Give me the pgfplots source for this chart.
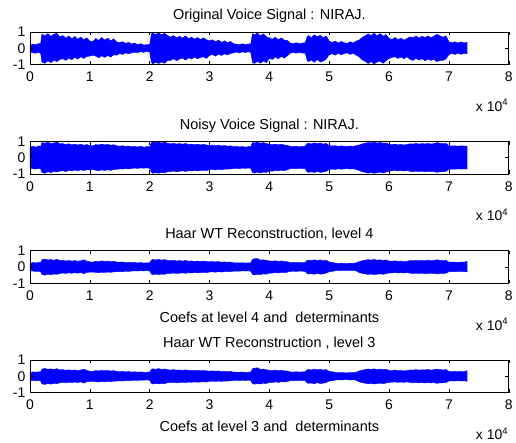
\documentclass[border=0pt]{standalone}
\usepackage{pgfplots}
\pgfplotsset{compat=1.18}
\usepackage{pgfplotstable}
\usepgfplotslibrary{fillbetween}
\usepackage{fontspec}
\setmainfont{Liberation Sans}

% Envelopes (upper / lower) of the signals, x in units of 10^4 samples
\pgfplotstableread{
x hi lo
0.00 0.18 -0.20
0.05 0.26 -0.28
0.10 0.22 -0.30
0.15 0.29 -0.24
0.18 0.30 -0.32
0.20 0.86 -0.84
0.25 0.76 -0.92
0.30 0.90 -0.76
0.35 0.74 -0.88
0.40 0.86 -0.72
0.45 0.92 -0.82
0.50 0.70 -0.68
0.55 0.78 -0.64
0.60 0.62 -0.74
0.65 0.76 -0.60
0.70 0.58 -0.70
0.75 0.72 -0.55
0.80 0.56 -0.66
0.85 0.68 -0.52
0.90 0.52 -0.62
0.95 0.64 -0.50
1.00 0.44 -0.48
1.05 0.40 -0.42
1.10 0.60 -0.48
1.15 0.48 -0.58
1.20 0.66 -0.46
1.25 0.50 -0.56
1.30 0.62 -0.44
1.35 0.46 -0.54
1.40 0.58 -0.40
1.45 0.38 -0.42
1.50 0.36 -0.32
1.55 0.40 -0.38
1.60 0.30 -0.28
1.65 0.36 -0.34
1.70 0.26 -0.28
1.75 0.32 -0.24
1.80 0.22 -0.27
1.85 0.28 -0.21
1.90 0.20 -0.25
1.95 0.22 -0.19
2.00 0.24 -0.23
2.03 0.88 -0.86
2.05 0.93 -0.95
2.10 0.84 -0.86
2.15 0.95 -0.93
2.20 0.82 -0.84
2.25 0.91 -0.92
2.30 0.78 -0.74
2.35 0.68 -0.74
2.40 0.78 -0.64
2.45 0.64 -0.76
2.50 0.74 -0.66
2.55 0.62 -0.60
2.60 0.76 -0.72
2.65 0.58 -0.58
2.70 0.68 -0.66
2.75 0.56 -0.54
2.80 0.66 -0.64
2.85 0.54 -0.56
2.90 0.64 -0.52
2.95 0.52 -0.62
3.00 0.46 -0.44
3.05 0.52 -0.38
3.10 0.40 -0.48
3.15 0.50 -0.36
3.20 0.36 -0.44
3.25 0.46 -0.34
3.30 0.34 -0.40
3.35 0.42 -0.32
3.40 0.28 -0.28
3.45 0.25 -0.23
3.50 0.22 -0.28
3.55 0.28 -0.22
3.60 0.22 -0.26
3.65 0.26 -0.21
3.69 0.28 -0.26
3.72 0.90 -0.88
3.75 0.82 -0.93
3.80 0.93 -0.80
3.85 0.76 -0.91
3.90 0.88 -0.78
3.95 0.70 -0.88
4.00 0.64 -0.62
4.05 0.56 -0.68
4.10 0.68 -0.54
4.15 0.52 -0.64
4.20 0.64 -0.50
4.25 0.50 -0.60
4.30 0.48 -0.46
4.35 0.32 -0.30
4.40 0.29 -0.26
4.45 0.34 -0.30
4.50 0.28 -0.25
4.55 0.32 -0.29
4.60 0.34 -0.30
4.63 0.70 -0.72
4.65 0.78 -0.82
4.70 0.66 -0.72
4.75 0.82 -0.86
4.80 0.70 -0.68
4.85 0.80 -0.84
4.90 0.64 -0.78
4.95 0.76 -0.66
5.00 0.44 -0.40
5.05 0.36 -0.34
5.10 0.44 -0.42
5.15 0.32 -0.30
5.20 0.42 -0.40
5.25 0.34 -0.32
5.30 0.30 -0.28
5.35 0.40 -0.38
5.40 0.32 -0.30
5.45 0.44 -0.42
5.50 0.50 -0.52
5.55 0.66 -0.70
5.60 0.76 -0.80
5.65 0.88 -0.93
5.70 0.78 -0.82
5.75 0.92 -0.95
5.80 0.76 -0.84
5.85 0.90 -0.78
5.90 0.74 -0.92
5.95 0.84 -0.76
6.00 0.60 -0.62
6.05 0.54 -0.56
6.10 0.66 -0.52
6.15 0.52 -0.62
6.20 0.62 -0.54
6.25 0.50 -0.64
6.30 0.60 -0.52
6.35 0.70 -0.68
6.40 0.64 -0.74
6.45 0.76 -0.62
6.50 0.62 -0.72
6.55 0.74 -0.64
6.60 0.66 -0.76
6.65 0.76 -0.66
6.70 0.64 -0.74
6.75 0.74 -0.68
6.80 0.86 -0.82
6.85 0.76 -0.74
6.90 0.68 -0.74
6.95 0.76 -0.66
7.00 0.40 -0.38
7.05 0.34 -0.32
7.10 0.40 -0.38
7.15 0.32 -0.30
7.20 0.39 -0.37
7.25 0.33 -0.31
7.31 0.36 -0.34
}\original

\pgfplotstableread{
x hi lo
0.00 0.66 -0.62
0.05 0.70 -0.68
0.10 0.64 -0.70
0.15 0.72 -0.66
0.18 0.68 -0.70
0.20 0.92 -0.90
0.25 0.88 -0.96
0.30 0.95 -0.86
0.35 0.86 -0.92
0.40 0.90 -0.84
0.45 0.96 -0.88
0.50 0.84 -0.82
0.55 0.86 -0.80
0.60 0.80 -0.86
0.65 0.85 -0.78
0.70 0.78 -0.82
0.75 0.83 -0.76
0.80 0.77 -0.80
0.85 0.82 -0.75
0.90 0.76 -0.79
0.95 0.80 -0.74
1.00 0.74 -0.76
1.05 0.72 -0.73
1.10 0.80 -0.77
1.15 0.77 -0.80
1.20 0.83 -0.75
1.25 0.78 -0.79
1.30 0.81 -0.74
1.35 0.76 -0.78
1.40 0.79 -0.72
1.45 0.72 -0.72
1.50 0.70 -0.69
1.55 0.73 -0.70
1.60 0.68 -0.67
1.65 0.71 -0.69
1.70 0.66 -0.66
1.75 0.69 -0.64
1.80 0.65 -0.66
1.85 0.70 -0.63
1.90 0.64 -0.65
1.95 0.67 -0.62
2.00 0.66 -0.66
2.03 0.92 -0.90
2.05 0.95 -0.96
2.10 0.91 -0.92
2.15 0.96 -0.95
2.20 0.90 -0.91
2.25 0.94 -0.93
2.30 0.88 -0.86
2.35 0.84 -0.85
2.40 0.88 -0.82
2.45 0.83 -0.87
2.50 0.86 -0.83
2.55 0.82 -0.81
2.60 0.87 -0.85
2.65 0.80 -0.80
2.70 0.83 -0.82
2.75 0.79 -0.78
2.80 0.82 -0.81
2.85 0.78 -0.79
2.90 0.81 -0.77
2.95 0.77 -0.80
3.00 0.75 -0.74
3.05 0.77 -0.72
3.10 0.73 -0.75
3.15 0.76 -0.71
3.20 0.71 -0.74
3.25 0.74 -0.70
3.30 0.70 -0.71
3.35 0.72 -0.69
3.40 0.67 -0.67
3.45 0.69 -0.65
3.50 0.65 -0.68
3.55 0.68 -0.64
3.60 0.64 -0.66
3.65 0.67 -0.63
3.69 0.68 -0.67
3.72 0.93 -0.92
3.75 0.90 -0.95
3.80 0.95 -0.89
3.85 0.88 -0.94
3.90 0.92 -0.88
3.95 0.86 -0.91
4.00 0.82 -0.81
4.05 0.79 -0.83
4.10 0.83 -0.78
4.15 0.78 -0.81
4.20 0.82 -0.77
4.25 0.77 -0.80
4.30 0.75 -0.74
4.35 0.69 -0.68
4.40 0.67 -0.66
4.45 0.70 -0.68
4.50 0.66 -0.65
4.55 0.69 -0.67
4.60 0.70 -0.68
4.63 0.85 -0.86
4.65 0.88 -0.90
4.70 0.84 -0.87
4.75 0.90 -0.91
4.80 0.86 -0.85
4.85 0.89 -0.90
4.90 0.83 -0.88
4.95 0.87 -0.84
5.00 0.74 -0.72
5.05 0.71 -0.70
5.10 0.73 -0.72
5.15 0.69 -0.68
5.20 0.72 -0.71
5.25 0.70 -0.69
5.30 0.68 -0.67
5.35 0.71 -0.70
5.40 0.69 -0.68
5.45 0.73 -0.72
5.50 0.77 -0.78
5.55 0.84 -0.86
5.60 0.88 -0.90
5.65 0.93 -0.95
5.70 0.90 -0.91
5.75 0.95 -0.96
5.80 0.89 -0.92
5.85 0.93 -0.89
5.90 0.88 -0.94
5.95 0.90 -0.88
6.00 0.81 -0.82
6.05 0.79 -0.80
6.10 0.83 -0.78
6.15 0.78 -0.81
6.20 0.81 -0.79
6.25 0.77 -0.82
6.30 0.80 -0.78
6.35 0.85 -0.84
6.40 0.83 -0.86
6.45 0.87 -0.83
6.50 0.83 -0.85
6.55 0.86 -0.83
6.60 0.84 -0.87
6.65 0.87 -0.84
6.70 0.83 -0.86
6.75 0.86 -0.85
6.80 0.92 -0.90
6.85 0.88 -0.87
6.90 0.85 -0.86
6.95 0.87 -0.84
7.00 0.73 -0.72
7.05 0.71 -0.70
7.10 0.72 -0.71
7.15 0.70 -0.69
7.20 0.72 -0.70
7.25 0.71 -0.69
7.31 0.71 -0.70
}\noisy

\pgfplotstableread{
x hi lo
0.00 0.22 -0.24
0.05 0.27 -0.25
0.10 0.25 -0.28
0.15 0.28 -0.26
0.18 0.27 -0.29
0.20 0.44 -0.46
0.25 0.48 -0.50
0.30 0.43 -0.44
0.35 0.46 -0.48
0.40 0.41 -0.43
0.45 0.47 -0.45
0.50 0.39 -0.40
0.55 0.41 -0.37
0.60 0.37 -0.40
0.65 0.40 -0.36
0.70 0.36 -0.39
0.75 0.39 -0.35
0.80 0.35 -0.38
0.85 0.38 -0.34
0.90 0.44 -0.42
0.95 0.36 -0.33
1.00 0.31 -0.32
1.05 0.30 -0.31
1.10 0.35 -0.33
1.15 0.33 -0.35
1.20 0.37 -0.32
1.25 0.34 -0.34
1.30 0.36 -0.31
1.35 0.32 -0.33
1.40 0.35 -0.30
1.45 0.30 -0.29
1.50 0.29 -0.28
1.55 0.30 -0.29
1.60 0.27 -0.26
1.65 0.29 -0.27
1.70 0.26 -0.25
1.75 0.28 -0.24
1.80 0.25 -0.25
1.85 0.27 -0.23
1.90 0.24 -0.24
1.95 0.25 -0.22
2.00 0.26 -0.24
2.03 0.42 -0.43
2.05 0.46 -0.47
2.10 0.43 -0.44
2.15 0.47 -0.46
2.20 0.42 -0.44
2.25 0.45 -0.45
2.30 0.40 -0.39
2.35 0.38 -0.39
2.40 0.41 -0.37
2.45 0.37 -0.40
2.50 0.39 -0.38
2.55 0.36 -0.36
2.60 0.40 -0.39
2.65 0.35 -0.35
2.70 0.37 -0.37
2.75 0.34 -0.34
2.80 0.36 -0.36
2.85 0.34 -0.35
2.90 0.36 -0.33
2.95 0.33 -0.35
3.00 0.32 -0.31
3.05 0.33 -0.30
3.10 0.31 -0.32
3.15 0.33 -0.29
3.20 0.29 -0.31
3.25 0.31 -0.29
3.30 0.29 -0.29
3.35 0.30 -0.28
3.40 0.26 -0.26
3.45 0.25 -0.25
3.50 0.25 -0.26
3.55 0.26 -0.24
3.60 0.24 -0.25
3.65 0.25 -0.24
3.69 0.26 -0.26
3.72 0.47 -0.46
3.75 0.50 -0.48
3.80 0.52 -0.45
3.85 0.42 -0.47
3.90 0.44 -0.42
3.95 0.40 -0.44
4.00 0.37 -0.37
4.05 0.35 -0.38
4.10 0.38 -0.34
4.15 0.34 -0.37
4.20 0.37 -0.33
4.25 0.33 -0.35
4.30 0.32 -0.32
4.35 0.27 -0.27
4.40 0.26 -0.26
4.45 0.28 -0.27
4.50 0.26 -0.25
4.55 0.27 -0.26
4.60 0.28 -0.27
4.63 0.40 -0.40
4.65 0.42 -0.43
4.70 0.39 -0.41
4.75 0.44 -0.45
4.80 0.40 -0.39
4.85 0.43 -0.44
4.90 0.38 -0.42
4.95 0.41 -0.38
5.00 0.30 -0.29
5.05 0.28 -0.27
5.10 0.24 -0.23
5.15 0.22 -0.22
5.20 0.23 -0.22
5.25 0.22 -0.21
5.30 0.21 -0.21
5.35 0.23 -0.22
5.40 0.22 -0.21
5.45 0.25 -0.24
5.50 0.33 -0.34
5.55 0.38 -0.39
5.60 0.41 -0.42
5.65 0.45 -0.46
5.70 0.42 -0.43
5.75 0.46 -0.47
5.80 0.41 -0.44
5.85 0.44 -0.42
5.90 0.40 -0.45
5.95 0.43 -0.41
6.00 0.36 -0.37
6.05 0.35 -0.36
6.10 0.38 -0.34
6.15 0.34 -0.37
6.20 0.36 -0.35
6.25 0.33 -0.37
6.30 0.35 -0.34
6.35 0.39 -0.38
6.40 0.38 -0.40
6.45 0.41 -0.38
6.50 0.38 -0.40
6.55 0.40 -0.38
6.60 0.39 -0.41
6.65 0.42 -0.39
6.70 0.38 -0.40
6.75 0.41 -0.39
6.80 0.44 -0.43
6.85 0.41 -0.40
6.90 0.39 -0.40
6.95 0.41 -0.38
7.00 0.30 -0.29
7.05 0.29 -0.28
7.10 0.30 -0.29
7.15 0.28 -0.27
7.20 0.30 -0.28
7.25 0.29 -0.28
7.31 0.34 -0.30
}\recon

\newcommand{\ticksize}{\fontsize{14}{16}\selectfont}
\newcommand{\textsize}{\fontsize{14.5}{16}\selectfont}

\pgfplotsset{
  wavepanel/.style={
    scale only axis, width=480pt, height=32.8pt,
    anchor=south west,
    xmin=0, xmax=8, ymin=-1, ymax=1,
    xtick={0,1,2,3,4,5,6,7,8},
    xticklabels={0,1,2,3,4,5,6,7,8},
    ytick={-1,0,1},
    yticklabels={-1,0,1},
    xtick pos=both, ytick pos=both,
    xticklabel pos=lower, yticklabel pos=left,
    tick align=inside, major tick length=3.5pt,
    tick style={black, line width=0.5pt},
    axis line style={black, line width=0.6pt},
    axis on top, clip mode=individual,
    tick label style={font=\ticksize, text=black},
    xticklabel style={yshift=-4pt},
    yticklabel style={xshift=-1pt},
    title style={at={(0.5,1)}, anchor=base, yshift=6pt, font=\textsize},
    xlabel style={at={(axis description cs:0.5,0)}, anchor=base, yshift=-39pt, font=\textsize},
  },
}

% upper and lower envelope, filled in between, plus the x multiplier
\newcommand{\wave}[1]{%
  \addplot[blue, line width=0.4pt, name path=up] table[x=x, y=hi] {#1};
  \addplot[blue, line width=0.4pt, name path=dn] table[x=x, y=lo] {#1};
  \addplot[blue] fill between[of=up and dn];
  \node[anchor=base east, inner sep=0pt, font=\ticksize, yshift=-47pt, xshift=-1pt]
    at (rel axis cs:1,0) {x 10\raisebox{0.75ex}{\fontsize{9.5}{9.5}\selectfont 4}};
}

\begin{document}
\begin{tikzpicture}
\path (0,0) rectangle (516pt,444pt);

\begin{axis}[wavepanel, at={(30pt,379.2pt)},
  title={Original Voice Signal : NIRAJ.}]
  \wave{\original}
\end{axis}

\begin{axis}[wavepanel, at={(30pt,269.6pt)},
  title={Noisy Voice Signal : NIRAJ.}]
  \wave{\noisy}
\end{axis}

\begin{axis}[wavepanel, at={(30pt,160pt)},
  title={Haar WT Reconstruction, level 4},
  xlabel={Coefs at level 4 and\ \ determinants}]
  \wave{\recon}
\end{axis}

\begin{axis}[wavepanel, at={(30pt,50.4pt)},
  title={Haar WT Reconstruction , level 3},
  xlabel={Coefs at level 3 and\ \ determinants}]
  \wave{\recon}
\end{axis}
\end{tikzpicture}
\end{document}
